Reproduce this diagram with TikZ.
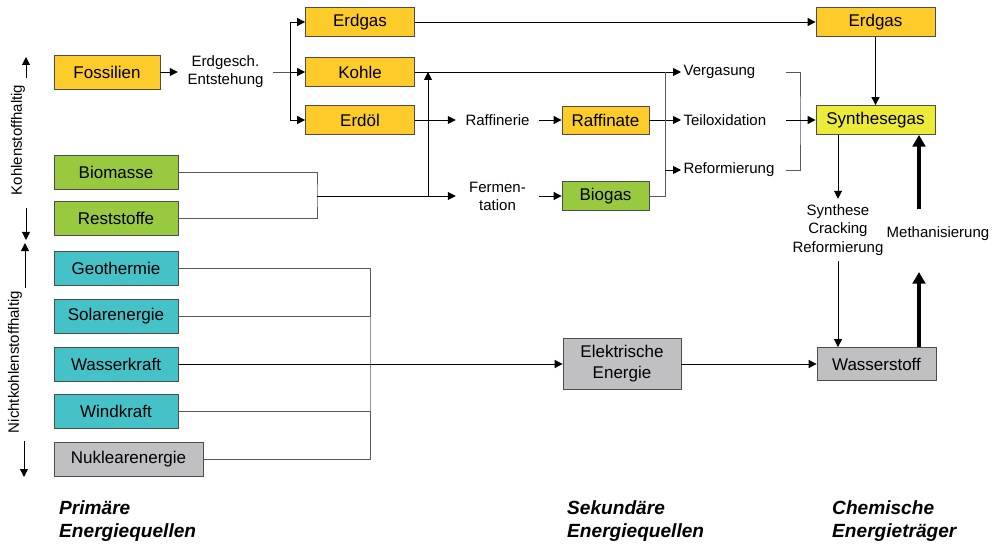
\documentclass[tikz,border=0pt]{standalone}
\usepackage{fontspec}
\setmainfont{Liberation Sans}
\usetikzlibrary{arrows.meta}
\definecolor{fossil}{HTML}{FDCB2A}
\definecolor{synth}{HTML}{EEEA3A}
\definecolor{bio}{HTML}{99C93F}
\definecolor{geo}{HTML}{45C2C8}
\definecolor{grau}{HTML}{C0C0C2}
\begin{document}
\begin{tikzpicture}[x=0.3mm, y=-0.3mm,
    box/.style={draw=black!70, line width=0.7pt, fill=#1, inner sep=0pt,
                align=center, font=\fontsize{14.5}{18}\selectfont},
    lbl/.style={font=\fontsize{12.8}{15.5}\selectfont, align=center, inner sep=2pt},
    side/.style={font=\fontsize{12.8}{15}\selectfont, rotate=90, inner sep=1pt},
    ttl/.style={font=\fontsize{16.3}{20.4}\selectfont\bfseries\itshape,
                align=left, anchor=north west, inner sep=0pt},
    arr/.style={-{Triangle[length=2.4mm,width=2.4mm]}, line width=0.8pt},
    lin/.style={draw=black!65, line width=0.8pt},
    fat/.style={-{Triangle[length=3.5mm,width=3.8mm]}, line width=3.4pt}
  ]
    \useasboundingbox (0,0) rectangle (999,546);

    % Primaere Energiequellen
    \node[box=fossil, minimum width=31.8mm, minimum height=10.2mm] (foss)     at (107,72)   {Fossilien};
    \node[box=bio,    minimum width=37.2mm, minimum height=10.2mm] (biomasse) at (116,172)  {Biomasse};
    \node[box=bio,    minimum width=37.2mm, minimum height=10.2mm] (rest)     at (116,218)  {Reststoffe};
    \node[box=geo,    minimum width=37.2mm, minimum height=10.2mm] (geo)      at (116,268)  {Geothermie};
    \node[box=geo,    minimum width=37.2mm, minimum height=10.2mm] (solar)    at (116,316)  {Solarenergie};
    \node[box=geo,    minimum width=37.2mm, minimum height=10.2mm] (wasser)   at (116,364)  {Wasserkraft};
    \node[box=geo,    minimum width=37.2mm, minimum height=10.2mm] (wind)     at (116,411)  {Windkraft};
    \node[box=grau,   minimum width=44.7mm, minimum height=10.2mm] (nuklear)  at (128.5,459){Nuklearenergie};

    % Sekundaere Energiequellen
    \node[box=fossil, minimum width=32.7mm, minimum height=8.7mm] (erdgasA)   at (360,22)   {Erdgas};
    \node[box=fossil, minimum width=32.7mm, minimum height=8.7mm] (kohle)     at (360,72)   {Kohle};
    \node[box=fossil, minimum width=32.7mm, minimum height=8.7mm] (erdoel)    at (360,120)  {Erdöl};
    \node[box=fossil, minimum width=26.1mm, minimum height=8.4mm] (raffinate) at (605.5,120){Raffinate};
    \node[box=bio,    minimum width=26.1mm, minimum height=8.7mm] (biogas)    at (605.5,196){Biogas};
    \node[box=grau,   minimum width=35.4mm, minimum height=15.3mm] (elektro)  at (622,364)  {Elektrische\\Energie};

    % Chemische Energietraeger
    \node[box=fossil, minimum width=35.7mm, minimum height=8.7mm] (erdgasB)   at (875.5,22) {Erdgas};
    \node[box=synth,  minimum width=35.7mm, minimum height=8.7mm] (synthese)  at (875.5,120){Synthesegas};
    \node[box=grau,   minimum width=35.7mm, minimum height=9.9mm] (wasserstoff) at (876.5,364){Wasserstoff};

    % Prozesse
    \node[lbl, minimum width=28.5mm] (gesch)  at (225.5,72) {Erdgesch.\\Entstehung};
    \node[lbl, minimum width=24.9mm] (raffin) at (497.5,120){Raffinerie};
    \node[lbl, minimum width=24.9mm] (ferm)   at (497.5,196){Fermen-\\tation};
    \node[lbl, anchor=west, text width=30.1mm, align=left] (vergasung) at (681,72)  {Vergasung};
    \node[lbl, anchor=west, text width=30.1mm, align=left] (teiloxid)  at (681,120) {Teiloxidation};
    \node[lbl, anchor=west, text width=30.1mm, align=left] (reform)    at (681,170) {Reformierung};
    \node[lbl, minimum height=18.6mm] (scr)  at (838,230) {Synthese\\Cracking\\Reformierung};
    \node[lbl] (meth) at (938,234) {Methanisierung};

    % Seitenbeschriftung
    \node[side] (kohlenst) at (18,140) {Kohlenstoffhaltig};
    \node[side] (nicht)    at (15,362) {Nichtkohlenstoffhaltig};
    \coordinate (ka) at (26,57);
    \coordinate (kb) at (26,240);
    \coordinate (na) at (25,243);
    \coordinate (nb) at (24,477);
    \draw[arr] (26,78) -- (ka);
    \draw[arr] (26,208) -- (kb);
    \draw[arr] (25,288) -- (na);
    \draw[arr] (24,441) -- (nb);

    % Spaltenueberschriften
    \node[ttl] (prim) at (59,500)  {Primäre\\Energiequellen};
    \node[ttl] (sek)  at (567,500) {Sekundäre\\Energiequellen};
    \node[ttl] (chem) at (832,500) {Chemische\\Energieträger};

    % Hilfspunkte
    \coordinate (fj)  at (290,72);
    \coordinate (bj)  at (317,196);
    \coordinate (uj)  at (428,196);
    \coordinate (vj)  at (665,196);
    \coordinate (rb)  at (800,120);
    \coordinate (gj)  at (370,364);
    \coordinate (mo)  at (919,209);
    \coordinate (mu)  at (919,272);

    \draw[arr] (foss) -- (gesch);
    \draw[lin] (gesch) -- (fj);
    \draw[arr] (fj) |- (erdgasA);
    \draw[arr] (fj) -- (kohle);
    \draw[arr] (fj) |- (erdoel);

    \draw[lin] (biomasse) -| (bj) |- (rest);
    \draw[arr] (bj) -- (ferm);
    \draw[arr] (uj) -- (uj |- kohle);

    \draw[arr] (erdoel) -- (raffin);
    \draw[arr] (raffin) -- (raffinate);
    \draw[arr] (ferm) -- (biogas);

    \draw[arr] (kohle) -- (vergasung);
    \draw[arr] (raffinate) -- (teiloxid);
    \draw[lin] (biogas) -- (vj) -- (vj |- kohle);
    \draw[arr] (vj |- reform) -- (reform);

    \draw[lin] (vergasung) -| (rb) |- (reform);
    \draw[arr] (teiloxid) -- (synthese);

    \draw[arr] (erdgasA) -- (erdgasB);
    \draw[arr] (erdgasB) -- (synthese);

    \draw[arr] (synthese.south -| scr) -- (scr);
    \draw[arr] (scr) -- (scr |- wasserstoff.north);
    \draw[fat] (mo) -- (mo |- synthese.south);
    \draw[fat] (mu |- wasserstoff.north) -- (mu);

    \draw[lin] (geo) -| (gj) |- (nuklear);
    \draw[lin] (solar) -- (solar -| gj);
    \draw[lin] (wind) -- (wind -| gj);
    \draw[arr] (wasser) -- (elektro);
    \draw[arr] (elektro) -- (wasserstoff);
  \end{tikzpicture}
\end{document}
